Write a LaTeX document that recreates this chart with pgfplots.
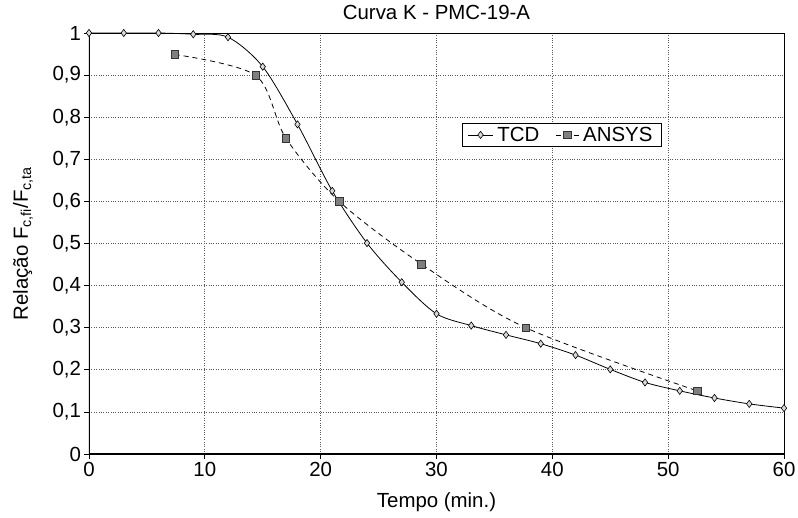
\documentclass[border=0pt]{standalone}
\usepackage{pgfplots}
\pgfplotsset{compat=1.18}
\usepackage{fontspec}
\setmainfont{Liberation Sans}
\definecolor{mkgray}{HTML}{7F7F7F}
\definecolor{mklight}{HTML}{D9D9D9}
\begin{document}
\begin{tikzpicture}
\begin{axis}[
  scale only axis,
  width=695bp, height=421bp,
  xmin=0, xmax=60, ymin=0, ymax=1,
  xtick={0,10,...,60},
  ytick={0,0.1,...,1.0},
  tick align=outside,
  xtick pos=bottom, ytick pos=left,
  major tick length=4.5bp,
  tick style={black, line width=0.8pt},
  axis line style={black, line width=0.8pt},
  grid=major,
  major grid style={black!65, dotted, line width=0.7pt},
  font=\fontsize{20.5}{24}\selectfont,
  /pgf/number format/.cd, use comma, fixed, precision=1, assume math mode=true,
  /pgfplots/.cd,
  title={Curva K - PMC-19-A},
  title style={at={(axis description cs:0.5,1.019)}, anchor=base, inner sep=0pt},
  xlabel={Tempo (min.)},
  xlabel style={at={(axis description cs:0.5,-0.1259)}, anchor=base, inner sep=0pt},
  ylabel={Relação F\textsubscript{c,fi}/F\textsubscript{c,ta}},
  ylabel style={at={(axis description cs:-0.0878,0.5)}, anchor=base, inner sep=0pt},
  legend style={at={(rel axis cs:0.537,0.786)}, anchor=north west, draw=black, line width=0.9pt,
    legend columns=2, font=\fontsize{20.5}{24}\selectfont, inner ysep=1.5pt, inner xsep=5bp,
    /tikz/every even column/.append style={column sep=12bp},
    nodes={inner xsep=4bp}},
  legend cell align=left,
]
\addplot[black, line width=0.8pt, smooth, tension=0.5, mark=diamond*, mark size=3.6bp,
  mark options={solid, fill=mklight, draw=black, line width=0.6pt},
  legend image code/.code={\draw[mark repeat=2,mark phase=2] plot coordinates {(0bp,0bp) (12.5bp,0bp) (25bp,0bp)};}]
coordinates {
(0,1.000) (3,1.000) (6,1.000) (9,0.997) (12,0.990) (15,0.920) (18,0.783)
(21,0.625) (24,0.501) (27,0.408) (30,0.333) (33,0.305) (36,0.283) (39,0.262)
(42,0.235) (45,0.201) (48,0.170) (51,0.150) (54,0.133) (57,0.119) (60,0.109)
};
\addlegendentry{TCD}
\addplot[black, line width=0.8pt, dashed, dash pattern=on 5bp off 4bp, smooth, tension=0.5,
  mark=square*, mark size=3.8bp,
  mark options={solid, fill=mkgray, draw=black!80, line width=0.6pt},
  legend image code/.code={\draw[mark repeat=2,mark phase=2, dash pattern=on 5bp off 4bp] plot coordinates {(0bp,0bp) (11.5bp,0bp) (23bp,0bp)};}]
coordinates {
(7.4,0.949) (14.4,0.899) (17.0,0.750) (21.6,0.600) (28.7,0.451) (37.7,0.300) (52.5,0.150)
};
\addlegendentry{ANSYS}
\draw[black, line width=2.4pt] (rel axis cs:0,1) -- (rel axis cs:0,0) -- (rel axis cs:1,0);
\end{axis}
\pgfresetboundingbox
\path[use as bounding box] ([shift={(-89bp,-64bp)}]current axis.south west) rectangle ([shift={(14bp,33bp)}]current axis.north east);
\end{tikzpicture}
\end{document}
